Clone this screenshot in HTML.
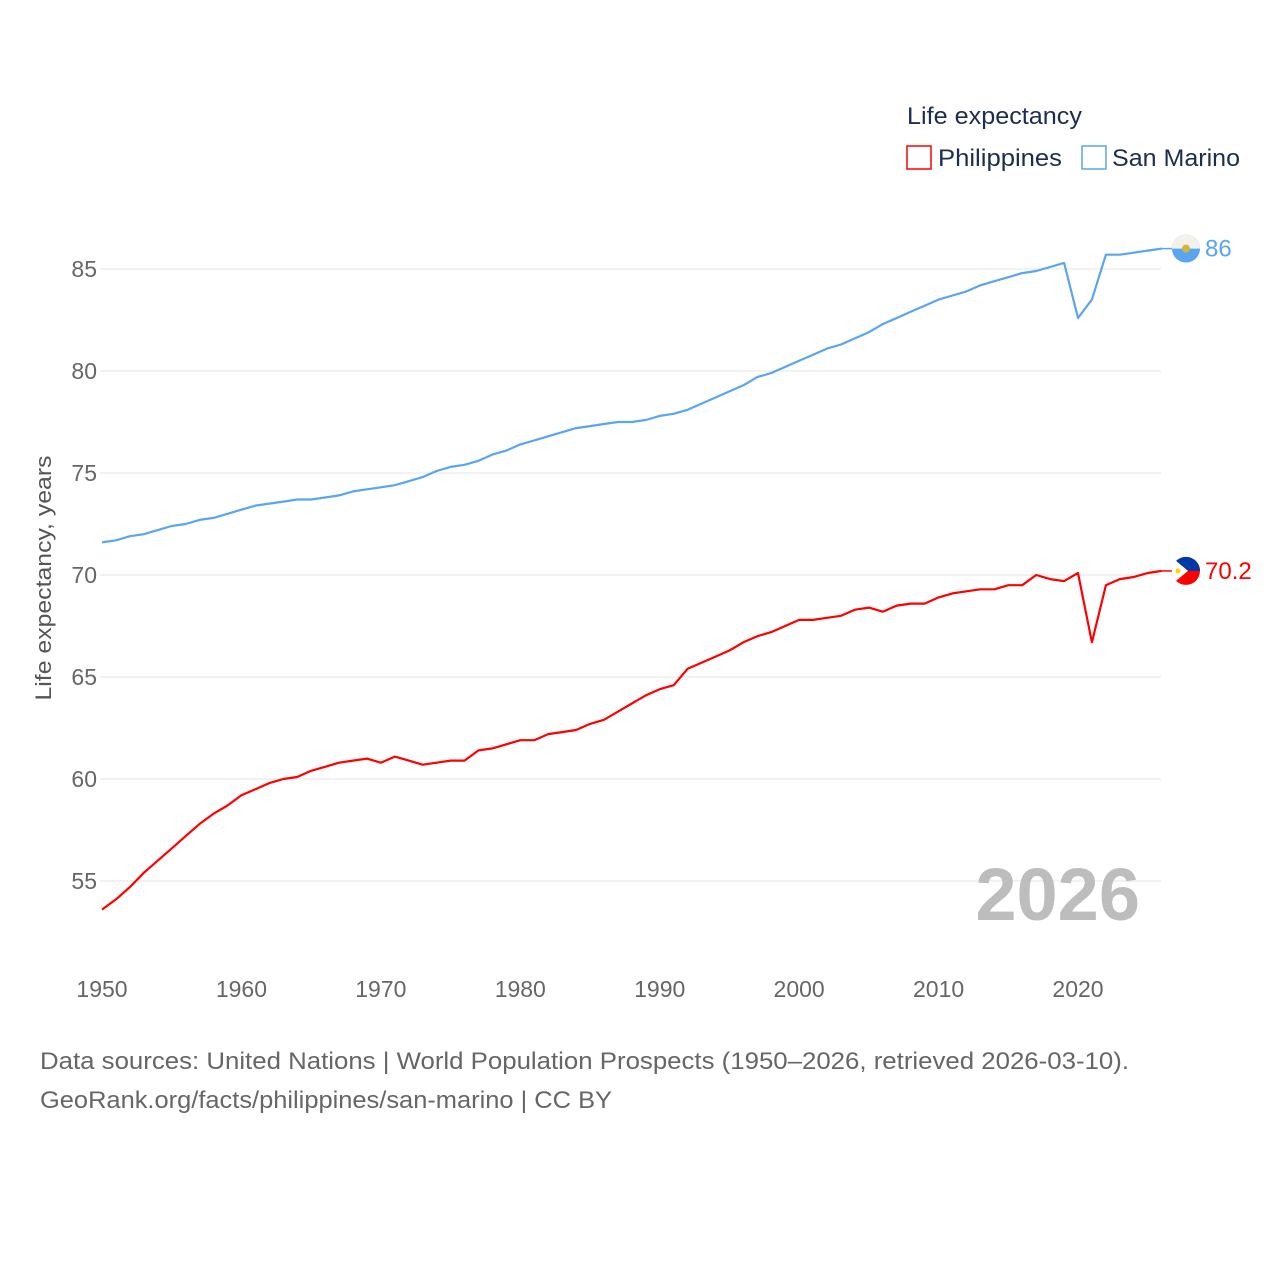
<!DOCTYPE html>
<html><head><meta charset="utf-8">
<style>
body{margin:0;background:#fff;font-family:"Liberation Sans",sans-serif;}
svg{display:block}
</style></head>
<body>
<svg id="chart" width="1280" height="1280" xmlns="http://www.w3.org/2000/svg" font-family="Liberation Sans, sans-serif">
<g id="grid"></g>
<g id="yticks"></g>
<g id="xticks"></g>
<text transform="translate(51,578) rotate(-90)" text-anchor="middle" font-size="22" fill="#555" textLength="245" lengthAdjust="spacingAndGlyphs">Life expectancy, years</text>
<g id="series"></g>
<text x="1140" y="920" text-anchor="end" font-size="74" font-weight="bold" fill="#bdbdbd">2026</text>
<g>
<text x="907" y="124" font-size="24" fill="#1d2e4d" textLength="175" lengthAdjust="spacingAndGlyphs">Life expectancy</text>
<g>
<rect x="907" y="146" width="24" height="23" fill="none" stroke="#ff0000" stroke-width="1.5"/>
<text x="938" y="166" font-size="24" fill="#1d2e4d" textLength="124" lengthAdjust="spacingAndGlyphs">Philippines</text></g>
<g>
<rect x="1082" y="146" width="24" height="23" fill="none" stroke="#5aa5ef" stroke-width="1.5"/>
<text x="1112" y="166" font-size="24" fill="#1d2e4d" textLength="128" lengthAdjust="spacingAndGlyphs">San Marino</text></g>
</g>
<text x="40" y="1069" font-size="24" fill="#666" textLength="1089" lengthAdjust="spacingAndGlyphs">Data sources: United Nations | World Population Prospects (1950–2026, retrieved 2026-03-10).</text>
<text x="40" y="1108" font-size="24" fill="#666" textLength="572" lengthAdjust="spacingAndGlyphs">GeoRank.org/facts/philippines/san-marino | CC BY</text>
</svg>
<script>
const years=[];for(let y=1950;y<=2026;y++)years.push(y);
const sanMarino=[71.6,71.7,71.9,72.0,72.2,72.4,72.5,72.7,72.8,73.0,73.2,73.4,73.5,73.6,73.7,73.7,73.8,73.9,74.1,74.2,74.3,74.4,74.6,74.8,75.1,75.3,75.4,75.6,75.9,76.1,76.4,76.6,76.8,77.0,77.2,77.3,77.4,77.5,77.5,77.6,77.8,77.9,78.1,78.4,78.7,79.0,79.3,79.7,79.9,80.2,80.5,80.8,81.1,81.3,81.6,81.9,82.3,82.6,82.9,83.2,83.5,83.7,83.9,84.2,84.4,84.6,84.8,84.9,85.1,85.3,82.6,83.5,85.7,85.7,85.8,85.9,86.0];
const philippines=[53.6,54.1,54.7,55.4,56.0,56.6,57.2,57.8,58.3,58.7,59.2,59.5,59.8,60.0,60.1,60.4,60.6,60.8,60.9,61.0,60.8,61.1,60.9,60.7,60.8,60.9,60.9,61.4,61.5,61.7,61.9,61.9,62.2,62.3,62.4,62.7,62.9,63.3,63.7,64.1,64.4,64.6,65.4,65.7,66.0,66.3,66.7,67.0,67.2,67.5,67.8,67.8,67.9,68.0,68.3,68.4,68.2,68.5,68.6,68.6,68.9,69.1,69.2,69.3,69.3,69.5,69.5,70.0,69.8,69.7,70.1,66.7,69.5,69.8,69.9,70.1,70.2];
const yTicks=[55,60,65,70,75,80,85];
const xTicks=[1950,1960,1970,1980,1990,2000,2010,2020];
const NS="http://www.w3.org/2000/svg";
const X=y=>102+(y-1950)*(976/70);
const Y=v=>269+(85-v)*20.4;
function el(t,a,p){const e=document.createElementNS(NS,t);for(const k in a)e.setAttribute(k,a[k]);p.appendChild(e);return e;}
const grid=document.getElementById('grid'),yt=document.getElementById('yticks'),xt=document.getElementById('xticks'),ser=document.getElementById('series');
yTicks.forEach(v=>{
const l=el('line',{x1:100,x2:1161,y1:Y(v),y2:Y(v),stroke:'#e6e6e6','stroke-width':1},grid);


const t=el('text',{x:97,y:Y(v)+8,'text-anchor':'end','font-size':23,fill:'#666'},yt);t.textContent=v;


});
xTicks.forEach(v=>{
const t=el('text',{x:X(v),y:997,'text-anchor':'middle','font-size':23,fill:'#666'},xt);t.textContent=v;


});
function series(vals,color,name,label){
const d=vals.map((v,i)=>(i?'L':'M')+X(years[i]).toFixed(1)+','+Y(v).toFixed(1)).join('');
const p=el('path',{d:d,fill:'none',stroke:color,'stroke-width':2.2,'stroke-linejoin':'round'},ser);


const last=vals[vals.length-1];const lx=X(years[years.length-1]),ly=Y(last);
el('line',{x1:lx,x2:1172,y1:ly,y2:ly,stroke:color,'stroke-width':1.5},ser);
const c=el('circle',{cx:1186,cy:ly,r:14,fill:color},ser);


const t=el('text',{x:1205,y:ly+8,'font-size':24,fill:color},ser);t.textContent=label;


return ly;
}
const sy=series(sanMarino,'#5aa5ef','san-marino','86');
el('path',{d:`M1172,${sy} A14,14 0 0 1 1200,${sy} Z`,fill:'#f4f0ea'},ser);
el('circle',{cx:1186,cy:sy,r:4,fill:'#d6b33a'},ser);
const py=series(philippines,'#ff0000','philippines','70.2');
el('path',{d:`M1186,${py-14} A14,14 0 0 1 1200,${py} L1186,${py} Z`,fill:'#0038a8'},ser);
el('path',{d:`M1186,${py-14} A14,14 0 0 0 1172,${py} L1186,${py} Z`,fill:'#0038a8'},ser);
el('path',{d:`M1176,${py-10} L1188,${py} L1176,${py+10} A14,14 0 0 1 1176,${py-10} Z`,fill:'#fff'},ser);
el('circle',{cx:1178,cy:py,r:2.5,fill:'#fcd116'},ser);
</script>
</body></html>
